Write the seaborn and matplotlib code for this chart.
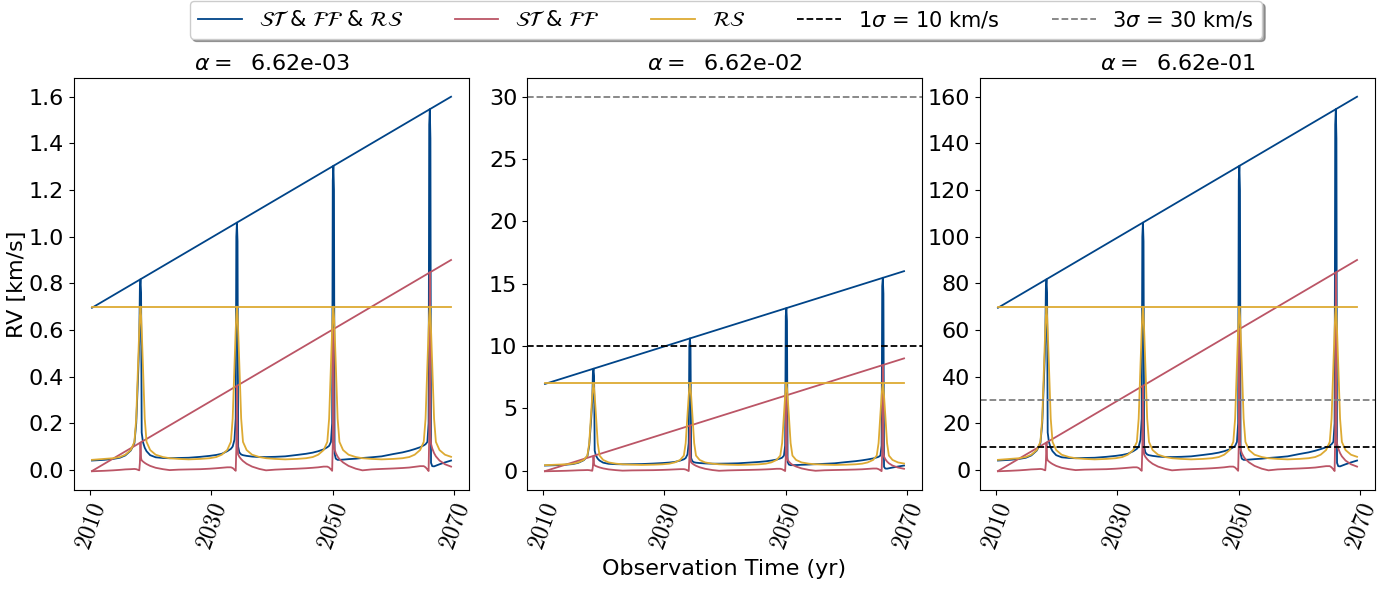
import numpy as np
import pandas as pd
import matplotlib
matplotlib.use("Agg")
import matplotlib.pyplot as plt
import seaborn as sns
from matplotlib.lines import Line2D

# ---------------- data (panel 1 units, km/s) ----------------
t_obs = [2010.3,
         2012.3, 2013.8, 2014.9, 2015.8, 2016.7, 2017.3, 2017.6, 2017.9, 2018.1, 2018.2,
         2018.3,
         2018.4, 2018.5, 2018.7, 2019.0, 2019.3, 2019.9, 2020.8, 2022.0, 2023.1, 2024.6,
         2026.25,
         2028.2, 2029.7, 2030.8, 2031.7, 2032.6, 2033.2, 2033.5, 2033.8, 2034.0, 2034.1,
         2034.2,
         2034.3, 2034.4, 2034.6, 2034.9, 2035.2, 2035.8, 2036.7, 2037.9, 2039.0, 2040.5,
         2042.15,
         2044.1, 2045.6, 2046.7, 2047.6, 2048.5, 2049.1, 2049.4, 2049.7, 2049.9, 2050.0,
         2050.1,
         2050.2, 2050.3, 2050.5, 2050.8, 2051.1, 2051.7, 2052.6, 2053.8, 2054.9, 2056.4,
         2058.05,
         2060.0, 2061.5, 2062.6, 2063.5, 2064.4, 2065.0, 2065.3, 2065.6, 2065.8, 2065.9,
         2066.0,
         2066.1, 2066.2, 2066.4, 2066.7, 2067.0, 2067.6, 2068.5, 2069.5]

rv_total = [0.040,
            0.043, 0.047, 0.052, 0.062, 0.083, 0.115, 0.20, 0.40, 0.55, 0.78,
            0.817,
            0.76, 0.16, 0.12, 0.095, 0.080, 0.063, 0.054, 0.051, 0.050, 0.051,
            0.052,
            0.056, 0.060, 0.064, 0.069, 0.080, 0.090, 0.100, 0.130, 0.220, 1.00,
            1.060,
            0.98, 0.10, 0.075, 0.066, 0.063, 0.060, 0.057, 0.055, 0.055, 0.056,
            0.058,
            0.064, 0.069, 0.074, 0.080, 0.088, 0.097, 0.103, 0.120, 0.200, 1.24,
            1.304,
            1.20, 0.07, 0.048, 0.043, 0.043, 0.044, 0.046, 0.048, 0.051, 0.054,
            0.058,
            0.068, 0.075, 0.082, 0.089, 0.097, 0.105, 0.110, 0.120, 0.200, 1.48,
            1.547,
            1.42, 0.03, 0.016, 0.015, 0.018, 0.024, 0.032, 0.040]

rv_stff = [-0.006,
           -0.004, -0.002, 0.000, 0.002, 0.003, 0.004, 0.003, 0.000, -0.002, 0.030,
           0.117,
           0.050, 0.041, 0.036, 0.030, 0.025, 0.017, 0.009, 0.003, -0.001, 0.001,
           0.002,
           0.003, 0.005, 0.007, 0.009, 0.011, 0.011, 0.008, 0.001, -0.004, 0.090,
           0.360,
           0.095, 0.066, 0.056, 0.046, 0.038, 0.026, 0.014, 0.004, -0.002, 0.001,
           0.003,
           0.005, 0.007, 0.009, 0.011, 0.014, 0.014, 0.010, 0.002, -0.004, 0.110,
           0.604,
           0.120, 0.088, 0.072, 0.057, 0.046, 0.032, 0.017, 0.005, -0.002, 0.002,
           0.004,
           0.006, 0.008, 0.010, 0.013, 0.016, 0.016, 0.011, 0.002, -0.005, 0.140,
           0.847,
           0.150, 0.112, 0.092, 0.072, 0.058, 0.040, 0.024, 0.014]

rv_rs = [0.043,
         0.047, 0.050, 0.055, 0.065, 0.085, 0.12, 0.22, 0.45, 0.60, 0.66,
         0.70,
         0.66, 0.60, 0.45, 0.22, 0.12, 0.085, 0.065, 0.055, 0.050, 0.047,
         0.045,
         0.047, 0.050, 0.055, 0.065, 0.085, 0.12, 0.22, 0.45, 0.60, 0.66,
         0.70,
         0.66, 0.60, 0.45, 0.22, 0.12, 0.085, 0.065, 0.055, 0.050, 0.047,
         0.045,
         0.047, 0.050, 0.055, 0.065, 0.085, 0.12, 0.22, 0.45, 0.60, 0.66,
         0.70,
         0.66, 0.60, 0.45, 0.22, 0.12, 0.085, 0.065, 0.055, 0.050, 0.047,
         0.045,
         0.047, 0.050, 0.055, 0.065, 0.085, 0.12, 0.22, 0.45, 0.60, 0.66,
         0.70,
         0.66, 0.60, 0.45, 0.22, 0.12, 0.085, 0.065, 0.056]

# straight segments joining first and last epoch
trend_t = [2010.3, 2069.5]
trend_total = [0.695, 1.60]
trend_stff = [-0.005, 0.90]
trend_rs = [0.70, 0.70]

alpha_labels = ["6.62e-03", "6.62e-02", "6.62e-01"]
panel_scale = [1, 10, 100]
sigma_levels = [10, 30]
xtick_years = [2010, 2030, 2050, 2070]

series_labels = [r"$\mathcal{ST}$ & $\mathcal{FF}$ & $\mathcal{RS}$",
                 r"$\mathcal{ST}$ & $\mathcal{FF}$",
                 r"$\mathcal{RS}$"]
sigma_labels = [r"1$\sigma$ = 10 km/s", r"3$\sigma$ = 30 km/s"]

c_total, c_stff, c_rs = "#004488", "#BB5566", "#DDAA33"
sigma_colors = ["black", "gray"]

# ---------------- figure ----------------
fig = plt.figure(figsize=(13.91, 5.89), dpi=100)
lefts = [74 / 1391, 527 / 1391, 980 / 1391]
width = 395 / 1391
bottom = 1 - 490 / 589
height = (490 - 78) / 589
axes = [fig.add_axes([l, bottom, width, height]) for l in lefts]

lw = 1.3
for i, ax in enumerate(axes):
    s = panel_scale[i]
    df = pd.DataFrame({"t": t_obs,
                       "total": np.array(rv_total) * s,
                       "stff": np.array(rv_stff) * s,
                       "rs": np.array(rv_rs) * s})
    tr = pd.DataFrame({"t": trend_t,
                       "total": np.array(trend_total) * s,
                       "stff": np.array(trend_stff) * s,
                       "rs": np.array(trend_rs) * s})
    for col, c in [("total", c_total), ("stff", c_stff), ("rs", c_rs)]:
        sns.lineplot(data=tr, x="t", y=col, ax=ax, color=c, lw=lw,
                     estimator=None, sort=False)
        sns.lineplot(data=df, x="t", y=col, ax=ax, color=c, lw=lw,
                     estimator=None, sort=False)
    if i > 0:
        for lev, c in zip(sigma_levels, sigma_colors):
            ax.axhline(lev, color=c, ls="--", lw=1.3)
    ax.set_title(r"$\alpha = $  " + alpha_labels[i], fontsize=16)
    ax.set_xticks(xtick_years)
    ax.set_xticklabels([r"$\mathit{%d}$" % y for y in xtick_years],
                       rotation=70, fontsize=17, math_fontfamily="cm")
    ax.tick_params(axis="y", labelsize=16)
    ax.set_xlabel("")
    ax.set_ylabel("")

axes[0].set_ylabel("RV [km/s]", fontsize=16, labelpad=1)
axes[1].set_xlabel("Observation Time (yr)", fontsize=16)

handles = [Line2D([], [], color=c_total, lw=lw),
           Line2D([], [], color=c_stff, lw=lw),
           Line2D([], [], color=c_rs, lw=lw),
           Line2D([], [], color="black", ls="--", lw=1.3),
           Line2D([], [], color="gray", ls="--", lw=1.3)]
leg = fig.legend(handles, series_labels + sigma_labels, loc="upper center",
                 bbox_to_anchor=(0.522, 1.016), ncol=5, fancybox=True, shadow=True,
                 fontsize=15, handlelength=2.1, columnspacing=2.5)

fig.savefig("out.png", dpi=100)
